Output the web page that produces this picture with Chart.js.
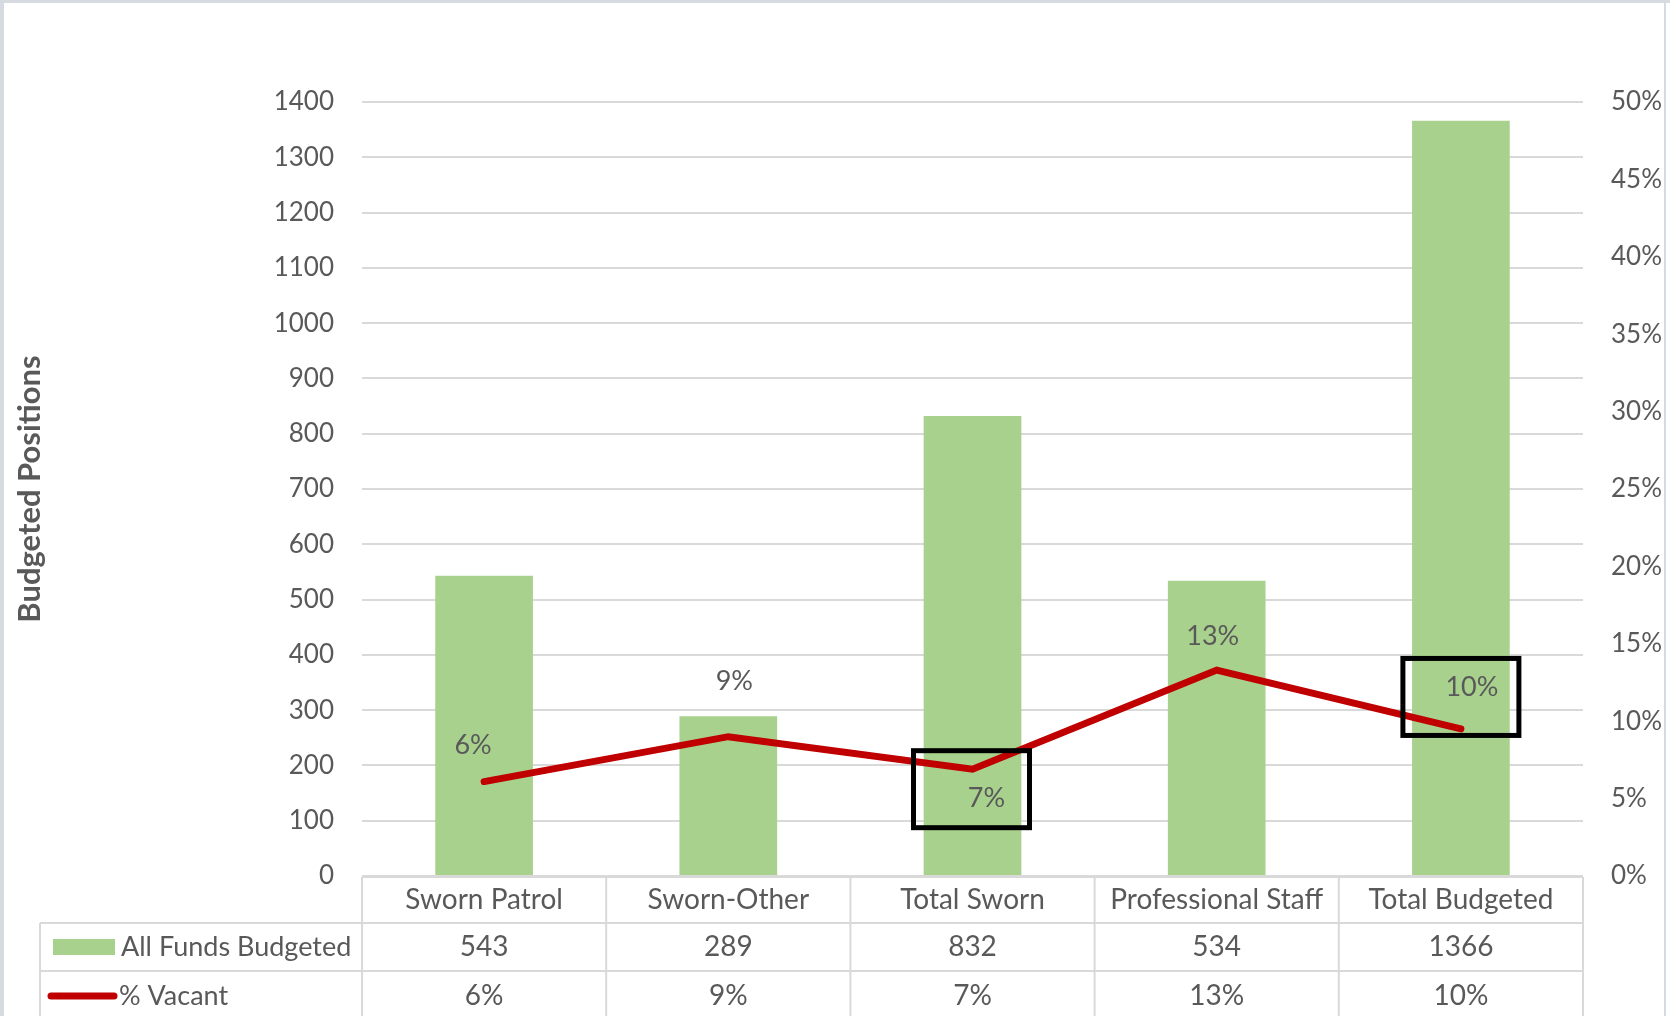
<!DOCTYPE html>
<html>
<head>
<meta charset="utf-8">
<script src="https://cdn.jsdelivr.net/npm/chart.js@4.4.0/dist/chart.umd.min.js"></script>
<style>
  html, body { margin: 0; padding: 0; background: #fff; overflow: hidden; }
  #wrap { position: relative; width: 1670px; height: 1016px; }
</style>
</head>
<body>
<div id="wrap"><canvas id="chart" width="1670" height="1016"></canvas></div>
<script>
const categories = ['Sworn Patrol', 'Sworn-Other', 'Total Sworn', 'Professional Staff', 'Total Budgeted'];
const budgeted = [543, 289, 832, 534, 1366];
const vacant = [0.061, 0.090, 0.069, 0.133, 0.095];
const highlighted = [2, 4]; // points with a black box round the label

const FONT = 'Lato, "Open Sans", sans-serif';
const TEXT = '#595959';
const GRID = '#D9D9D9';
const GREEN = '#A9D18E';
const RED = '#C00000';

// label offsets from each line point (px), and box offsets
const labelOffsets = [[-11, -36], [6, -55], [14, 29], [-4, -34], [11, -42]];
const boxOffsets = { 2: [-1, 20], 4: [0, -32] };

function pct(v) { return Math.round(v * 100) + '%'; }

const decorPlugin = {
  id: 'decor',
  beforeDraw(chart) {
    const ctx = chart.ctx;
    ctx.save();
    ctx.fillStyle = '#fff';
    ctx.fillRect(0, 0, chart.width, chart.height);
    ctx.fillStyle = '#D6DAE1';
    ctx.fillRect(0, 0, 4, chart.height);
    ctx.fillRect(0, 0, chart.width, 3);
    ctx.fillRect(chart.width - 6, 0, 2, chart.height);
    ctx.restore();
  },
  afterDatasetsDraw(chart) {
    const ctx = chart.ctx;
    const meta = chart.getDatasetMeta(1);
    ctx.save();
    ctx.font = '27px ' + FONT;
    ctx.fillStyle = TEXT;
    ctx.textAlign = 'center';
    ctx.textBaseline = 'middle';
    meta.data.forEach((pt, i) => {
      const o = labelOffsets[i];
      ctx.fillText(pct(vacant[i]), pt.x + o[0], pt.y + o[1]);
    });
    ctx.strokeStyle = '#000';
    ctx.lineWidth = 5;
    highlighted.forEach(i => {
      const pt = meta.data[i];
      const o = boxOffsets[i];
      const w = 116, h = 77;
      ctx.strokeRect(pt.x + o[0] - w / 2, pt.y + o[1] - h / 2, w, h);
    });
    ctx.restore();
  },
  afterDraw(chart) {
    const ctx = chart.ctx;
    const x = chart.scales.x;
    const area = chart.chartArea;
    const n = categories.length;
    const step = x.getPixelForValue(1) - x.getPixelForValue(0);
    const edges = categories.map((c, i) => x.getPixelForValue(i) - step / 2);
    edges.push(x.getPixelForValue(n - 1) + step / 2);
    const top = area.bottom + 1;
    const row1 = top + 46;
    const row2 = row1 + 48;
    const bottom = chart.height;
    const legendLeft = 40;

    ctx.save();
    ctx.strokeStyle = GRID;
    ctx.lineWidth = 2;
    const line = (x1, y1, x2, y2) => { ctx.beginPath(); ctx.moveTo(x1, y1); ctx.lineTo(x2, y2); ctx.stroke(); };
    line(edges[0], top, edges[n], top);
    line(legendLeft, row1, edges[n], row1);
    line(legendLeft, row2, edges[n], row2);
    edges.forEach(e => line(e, top, e, bottom));
    line(legendLeft, row1, legendLeft, bottom);

    // values
    ctx.font = '28px ' + FONT;
    ctx.fillStyle = TEXT;
    ctx.textAlign = 'center';
    ctx.textBaseline = 'middle';
    const y1 = (row1 + row2) / 2;
    const y2 = row2 + 25;
    categories.forEach((c, i) => {
      const cx = x.getPixelForValue(i);
      ctx.fillText(String(budgeted[i]), cx, y1);
      ctx.fillText(pct(vacant[i]), cx, y2);
    });

    // legend keys
    ctx.fillStyle = GREEN;
    ctx.fillRect(53, y1 - 8, 62, 16);
    ctx.strokeStyle = RED;
    ctx.lineWidth = 7;
    ctx.lineCap = 'round';
    line(51, y2, 114, y2);
    ctx.fillStyle = TEXT;
    ctx.textAlign = 'left';
    ctx.font = '27px ' + FONT;
    ctx.fillText(chart.data.datasets[0].label, 121, y1);
    ctx.fillText(chart.data.datasets[1].label, 119, y2);
    ctx.restore();
  }
};

new Chart(document.getElementById('chart'), {
  data: {
    labels: categories,
    datasets: [
      {
        type: 'bar',
        label: 'All Funds Budgeted',
        data: budgeted,
        backgroundColor: GREEN,
        categoryPercentage: 1,
        barPercentage: 0.4,
        yAxisID: 'y',
        order: 2,
      },
      {
        type: 'line',
        label: '% Vacant',
        data: vacant,
        borderColor: RED,
        borderWidth: 7,
        borderCapStyle: 'round',
        borderJoinStyle: 'miter',
        pointRadius: 0,
        tension: 0,
        yAxisID: 'y1',
        order: 1,
      },
    ],
  },
  options: {
    responsive: false,
    animation: false,
    layout: { padding: { top: 102, left: 0, right: 0, bottom: 0 } },
    plugins: {
      legend: { display: false },
      tooltip: { enabled: false },
    },
    scales: {
      x: {
        offset: true,
        grid: { display: false, drawTicks: false },
        border: { display: false },
        ticks: { color: TEXT, font: { family: FONT, size: 28 }, padding: 7, maxRotation: 0, autoSkip: false },
        afterFit: s => { s.height = 140; },
      },
      y: {
        position: 'left',
        min: 0,
        max: 1400,
        ticks: { stepSize: 100, color: TEXT, font: { family: FONT, size: 26 }, padding: 28, callback: v => String(v) },
        grid: { color: GRID, lineWidth: 2, drawTicks: false },
        border: { display: false },
        title: {
          display: true,
          text: 'Budgeted Positions',
          color: TEXT,
          font: { family: FONT, size: 31, weight: 'bold' },
          padding: { top: 11, bottom: 0 },
        },
        afterFit: s => { s.width = 362; },
      },
      y1: {
        position: 'right',
        min: 0,
        max: 0.5,
        ticks: { stepSize: 0.05, color: TEXT, font: { family: FONT, size: 26 }, padding: 28, callback: v => pct(v) },
        grid: { drawOnChartArea: false, drawTicks: false },
        border: { display: false },
        afterFit: s => { s.width = 87; },
      },
    },
  },
  plugins: [decorPlugin],
});
</script>
</body>
</html>
